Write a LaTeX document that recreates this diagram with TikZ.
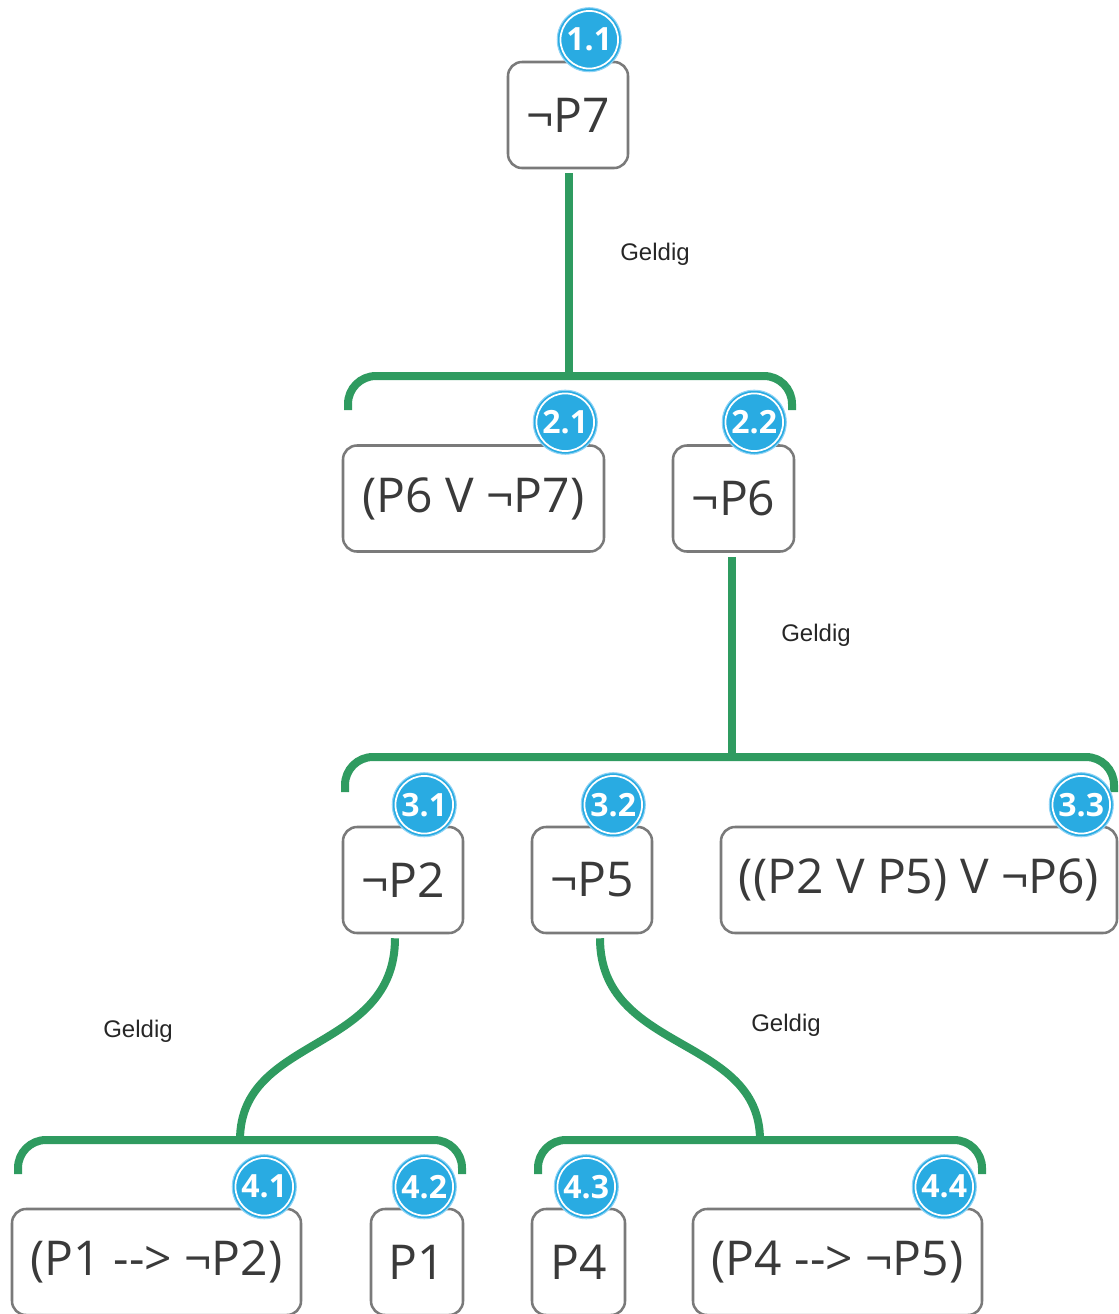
\documentclass[tikz,border=0pt]{standalone}
\usepackage{fontspec}
\setmainfont{Open Sans}
\newfontfamily\labelfont{Liberation Sans}
\newfontfamily\badgefont{Open Sans}[BoldFont={* Bold}]
\definecolor{linkgreen}{HTML}{2F9B60}
\definecolor{badgeblue}{HTML}{29ABE2}
\definecolor{badgering}{HTML}{8FD3F5}
\definecolor{boxgray}{HTML}{7A7A7A}
\definecolor{textgray}{HTML}{3A3A3A}
\tikzset{
  formula/.style={draw=boxgray, line width=1.9pt, rounded corners=10.5pt, fill=white,
    text=textgray, font=\fontsize{36}{40}\selectfont, inner sep=0pt,
    minimum height=79.5pt},
  badge/.style={circle, fill=badgeblue, draw=badgering, line width=0.8pt,
    minimum size=48pt, inner sep=0pt, text=white,
    font=\badgefont\bfseries\fontsize{24}{26}\selectfont,
    path picture={\draw[white, line width=1.3pt]
      (path picture bounding box.center) circle[radius=21.6pt];}},
  link/.style={draw=linkgreen, line width=6pt},
  bracket/.style={link, rounded corners=21pt},
  verdict/.style={font=\labelfont\fontsize{18}{20}\selectfont, text=black!85}
}
\begin{document}
\begin{tikzpicture}[x=0.75pt, y=-0.75pt]
\useasboundingbox (0,0) rectangle (1119,1314);
\clip (0,0) rectangle (1119,1314);

% ---- formula boxes ----
\node[formula, minimum width=90pt]     (n11) at (568,115)      {¬P7};
\node[formula, minimum width=195.75pt] (n21) at (473.5,498.5)  {(P6 V ¬P7)};
\node[formula, minimum width=90.75pt]  (n22) at (733.5,498.5)  {¬P6};
\node[formula, minimum width=90pt]     (n31) at (403,880)      {¬P2};
\node[formula, minimum width=90pt]     (n32) at (592,880)      {¬P5};
\node[formula, minimum width=297pt]    (n33) at (919,880)      {((P2 V P5) V ¬P6)};
\node[formula, minimum width=216.75pt] (n41) at (156.5,1262)   {(P1 -{}-{}> ¬P2)};
\node[formula, minimum width=69pt]     (n42) at (417,1262)     {P1};
\node[formula, minimum width=69.75pt]  (n43) at (578.5,1262)   {P4};
\node[formula, minimum width=216.75pt] (n44) at (837.5,1262)   {(P4 -{}-{}> ¬P5)};

% ---- bracket end points and junctions ----
\coordinate (j2)  at (569,376);
\coordinate (b2l) at (348,410);  \coordinate (b2r) at (792,410);
\coordinate (j3)  at (732,757);
\coordinate (b3l) at (345,792);  \coordinate (b3r) at (1114,792);
\coordinate (j4l) at (240,1140);
\coordinate (b4a) at (18,1174);  \coordinate (b4b) at (462,1174);
\coordinate (j4r) at (760,1140);
\coordinate (b4c) at (538,1174); \coordinate (b4d) at (982,1174);

% ---- brackets ----
\draw[bracket] (b2l) -- (348,376) -- (792,376) -- (b2r);
\draw[bracket] (b3l) -- (345,757) -- (1114,757) -- (b3r);
\draw[bracket] (b4a) -- (18,1140) -- (462,1140) -- (b4b);
\draw[bracket] (b4c) -- (538,1140) -- (982,1140) -- (b4d);

% ---- connectors ----
\draw[link] ([shift={(1,4)}]n11.south) -- (j2);
\draw[link] ([shift={(-1.5,4)}]n22.south) -- (j3);
\draw[link] ([shift={(-8,4)}]n31.south) .. controls +(0,115) and +(0,-105) .. (j4l);
\draw[link] ([shift={(8,4)}]n32.south) .. controls +(0,115) and +(0,-105) .. (j4r);

% ---- verdict labels ----
\node[verdict] (g1) at (655,254)  {Geldig};
\node[verdict] (g2) at (816,635)  {Geldig};
\node[verdict] (g3) at (138,1031) {Geldig};
\node[verdict] (g4) at (786,1025) {Geldig};

% ---- step badges ----
\node[badge] (s11) at ([shift={(-40,-21)}]n11.north east) {1.1};
\node[badge] (s21) at ([shift={(-40,-22)}]n21.north east) {2.1};
\node[badge] (s22) at ([shift={(-41,-22)}]n22.north east) {2.2};
\node[badge] (s31) at ([shift={(-40,-21)}]n31.north east) {3.1};
\node[badge] (s32) at ([shift={(-40,-21)}]n32.north east) {3.2};
\node[badge] (s33) at ([shift={(-37,-21)}]n33.north east) {3.3};
\node[badge] (s41) at ([shift={(-38,-21)}]n41.north east) {4.1};
\node[badge] (s42) at ([shift={(-40,-21)}]n42.north east) {4.2};
\node[badge] (s43) at ([shift={(-40,-21)}]n43.north east) {4.3};
\node[badge] (s44) at ([shift={(-39,-21)}]n44.north east) {4.4};
\end{tikzpicture}
\end{document}
